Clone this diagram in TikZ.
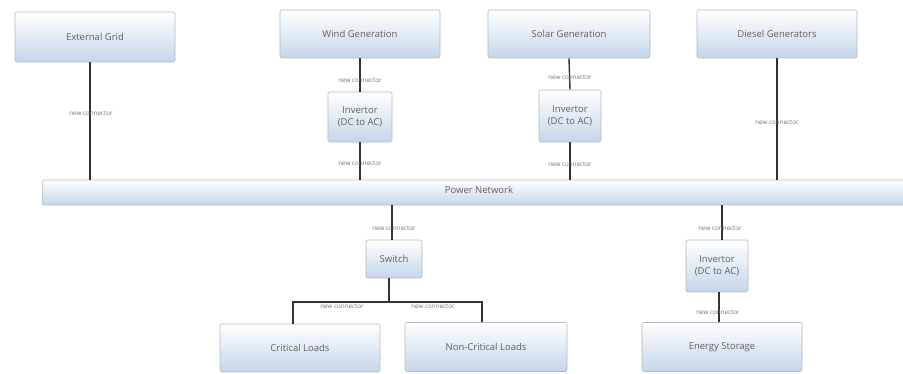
\documentclass[tikz,border=0pt]{standalone}
\usepackage{fontspec}
\setmainfont{Open Sans}
\begin{document}
\begin{tikzpicture}[x=1pt,y=-1pt,
  box/.style={draw=black!28, line width=0.6pt, rounded corners=2pt, top color=white, bottom color={rgb,255:red,196;green,214;blue,234}, inner sep=1pt, font=\fontsize{9.5}{12.5}\selectfont, text=black!62, align=center},
  wire/.style={draw=black!80, line width=1.4pt},
  lab/.style={font=\fontsize{6.3}{6.3}\selectfont, text=black!55, inner sep=0pt}]
\useasboundingbox (0,0) rectangle (903,374);
% top boxes
\node[box, minimum width=160pt, minimum height=50pt] (ext) at (95,37) {External Grid};
\node[box, minimum width=160pt, minimum height=48pt] (wind) at (360,34) {Wind Generation};
\node[box, minimum width=162pt, minimum height=48pt] (solar) at (569,34) {Solar Generation};
\node[box, minimum width=160pt, minimum height=48pt] (diesel) at (777,34) {Diesel Generators};
% inverters
\node[box, minimum width=64pt, minimum height=50pt] (inv1) at (360,117) {Invertor\\(DC to AC)};
\node[box, minimum width=62pt, minimum height=52pt] (inv2) at (570,116) {Invertor\\(DC to AC)};
% power network bar
\node[box, minimum width=876pt, minimum height=25pt, anchor=west, rounded corners=1.5pt] (pn) at (42,192.5) {};
\node[font=\fontsize{9.5}{12}\selectfont, text=black!62] (pnl) at (479,190) {Power Network};
% lower
\node[box, minimum width=56pt, minimum height=38pt] (sw) at (394,259) {Switch};
\node[box, minimum width=62pt, minimum height=52pt] (inv3) at (717,266) {Invertor\\(DC to AC)};
\node[box, minimum width=160pt, minimum height=48pt] (crit) at (300,348) {Critical Loads};
\node[box, minimum width=162pt, minimum height=49pt] (ncrit) at (486,347) {Non-Critical Loads};
\node[box, minimum width=160pt, minimum height=49pt] (es) at (722,347) {Energy Storage};
% coordinates
\coordinate (j) at (389,302);
% connectors
\draw[wire] (90,62) coordinate (e1) -- (e1 |- pn.north);
\draw[wire] (wind.south) -- (inv1.north);
\draw[wire] (inv1.south) -- (inv1.south |- pn.north);
\draw[wire] (solar.south) -- (inv2.north);
\draw[wire] (inv2.south) -- (inv2.south |- pn.north);
\draw[wire] (diesel.south) -- (diesel.south |- pn.north);
\draw[wire] (sw.north -| 392,0) coordinate (s1) -- (s1 |- pn.south);
\draw[wire] (j |- sw.south) -- (j);
\draw[wire] (j) -- (j -| 293,0) coordinate (c1) -- (c1 |- crit.north);
\draw[wire] (j) -- (j -| 482,0) coordinate (c2) -- (c2 |- ncrit.north);
\draw[wire] (inv3.north -| 722,0) coordinate (i3) -- (i3 |- pn.south);
\draw[wire] (inv3.south -| 719,0) coordinate (i4) -- (i4 |- es.north);
% labels
\node[lab] (l1) at (91,113) {new connector};
\node[lab] (l2) at (360,80) {new connector};
\node[lab] (l3) at (360,163) {new connector};
\node[lab] (l4) at (570,77) {new connector};
\node[lab] (l5) at (570,164) {new connector};
\node[lab] (l6) at (777,122) {new connector};
\node[lab] (l7) at (394,228) {new connector};
\node[lab] (l8) at (342,306) {new connector};
\node[lab] (l9) at (433,306) {new connector};
\node[lab] (l10) at (720,228) {new connector};
\node[lab] (l11) at (718,312) {new connector};
\end{tikzpicture}
\end{document}
